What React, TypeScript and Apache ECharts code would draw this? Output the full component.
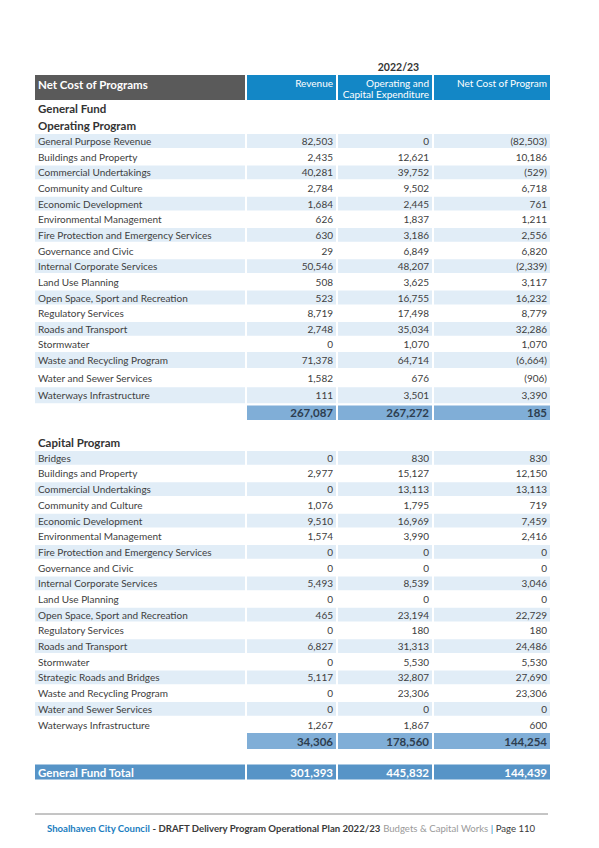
import React, { useEffect, useRef } from "react";
import * as echarts from "echarts";

const yearLabel = "2022/23";
const tableTitle = "Net Cost of Programs";
const columnHeaders = ["Revenue", "Operating and\nCapital Expenditure", "Net Cost of Program"];
const fundTitle = "General Fund";
const operatingTitle = "Operating Program";
const capitalTitle = "Capital Program";
const fundTotalLabel = "General Fund Total";

const operatingNames = [
  "General Purpose Revenue",
  "Buildings and Property",
  "Commercial Undertakings",
  "Community and Culture",
  "Economic Development",
  "Environmental Management",
  "Fire Protection and Emergency Services",
  "Governance and Civic",
  "Internal Corporate Services",
  "Land Use Planning",
  "Open Space, Sport and Recreation",
  "Regulatory Services",
  "Roads and Transport",
  "Stormwater",
  "Waste and Recycling Program",
  "Water and Sewer Services",
  "Waterways Infrastructure",
];
const operatingRevenue = [82503, 2435, 40281, 2784, 1684, 626, 630, 29, 50546, 508, 523, 8719, 2748, 0, 71378, 1582, 111];
const operatingExpenditure = [0, 12621, 39752, 9502, 2445, 1837, 3186, 6849, 48207, 3625, 16755, 17498, 35034, 1070, 64714, 676, 3501];
const operatingNet = [-82503, 10186, -529, 6718, 761, 1211, 2556, 6820, -2339, 3117, 16232, 8779, 32286, 1070, -6664, -906, 3390];
const operatingTotals = [267087, 267272, 185];

const capitalNames = [
  "Bridges",
  "Buildings and Property",
  "Commercial Undertakings",
  "Community and Culture",
  "Economic Development",
  "Environmental Management",
  "Fire Protection and Emergency Services",
  "Governance and Civic",
  "Internal Corporate Services",
  "Land Use Planning",
  "Open Space, Sport and Recreation",
  "Regulatory Services",
  "Roads and Transport",
  "Stormwater",
  "Strategic Roads and Bridges",
  "Waste and Recycling Program",
  "Water and Sewer Services",
  "Waterways Infrastructure",
];
const capitalRevenue = [0, 2977, 0, 1076, 9510, 1574, 0, 0, 5493, 0, 465, 0, 6827, 0, 5117, 0, 0, 1267];
const capitalExpenditure = [830, 15127, 13113, 1795, 16969, 3990, 0, 0, 8539, 0, 23194, 180, 31313, 5530, 32807, 23306, 0, 1867];
const capitalNet = [830, 12150, 13113, 719, 7459, 2416, 0, 0, 3046, 0, 22729, 180, 24486, 5530, 27690, 23306, 0, 600];
const capitalTotals = [34306, 178560, 144254];

const fundTotals = [301393, 445832, 144439];

const footerParts = [
  "Shoalhaven City Council",
  " - DRAFT Delivery Program Operational Plan 2022/23",
  " Budgets & Capital Works",
  " | ",
  "Page 110",
];

// ---- styling / layout ----
const FONT = "Lato";
const C_GREY = "#5a5a5a";
const C_BLUE = "#1387c6";
const C_STRIPE = "#e1edf7";
const C_SUB = "#80aed7";
const C_TOTAL = "#5794c7";
const C_TEXT = "#404040";
const C_SUBTEXT = "#2d3d4f";

const COLS = [
  { x: 35, w: 210 },
  { x: 247, w: 89 },
  { x: 338, w: 94 },
  { x: 434, w: 116 },
];

const fmt = (v: number) => {
  const s = Math.abs(v).toLocaleString("en-US");
  return v < 0 ? `(${s})` : s;
};

function text(str: string, x: number, y: number, opts: any = {}) {
  return {
    type: "text",
    silent: true,
    style: {
      text: str,
      x,
      y,
      fill: opts.fill || C_TEXT,
      fontFamily: FONT,
      fontSize: opts.fontSize || 10,
      fontWeight: opts.fontWeight || "normal",
      align: opts.align || "left",
      verticalAlign: opts.verticalAlign || "middle",
      lineHeight: opts.lineHeight,
    },
  };
}

function rect(x: number, y: number, w: number, h: number, fill: string) {
  return { type: "rect", silent: true, shape: { x, y, width: w, height: h }, style: { fill } };
}

function buildElements() {
  const els: any[] = [];

  // header
  els.push(text(yearLabel, (COLS[1].x + COLS[3].x + COLS[3].w) / 2, 67, { fontWeight: "bold", fill: "#333", fontSize: 10.5, align: "center" }));
  els.push(rect(COLS[0].x, 75, COLS[0].w, 25, C_GREY));
  for (let c = 1; c < 4; c++) els.push(rect(COLS[c].x, 75, COLS[c].w, 25, C_BLUE));
  els.push(text(tableTitle, 38, 84, { fill: "#fff", fontWeight: "bold", fontSize: 11.5 }));
  columnHeaders.forEach((h, i) => {
    const col = COLS[i + 1];
    els.push(
      text(h, col.x + col.w - 3, 77, { fill: "#fff", fontSize: 10, align: "right", verticalAlign: "top", lineHeight: 11 })
    );
  });

  els.push(text(fundTitle, 38, 108.5, { fontWeight: "bold", fontSize: 11.5, fill: "#333" }));
  els.push(text(operatingTitle, 38, 125.5, { fontWeight: "bold", fontSize: 11.5, fill: "#333" }));

  const drawRows = (
    names: string[],
    rev: number[],
    exp: number[],
    net: number[],
    centerOf: (i: number) => number,
    heightOf: (i: number) => number
  ) => {
    names.forEach((name, i) => {
      const cy = centerOf(i);
      const h = heightOf(i);
      if (i % 2 === 0) {
        for (let c = 0; c < 4; c++) els.push(rect(COLS[c].x, cy - h / 2, COLS[c].w, h, C_STRIPE));
      }
      els.push(text(name, 38, cy));
      [rev[i], exp[i], net[i]].forEach((v, k) => {
        const col = COLS[k + 1];
        els.push(text(fmt(v), col.x + col.w - 3, cy, { align: "right" }));
      });
    });
  };

  const subtotal = (vals: number[], cy: number, h: number) => {
    vals.forEach((v, k) => {
      const col = COLS[k + 1];
      els.push(rect(col.x, cy - h / 2, col.w, h, C_SUB));
      els.push(text(fmt(v), col.x + col.w - 3, cy, { align: "right", fontWeight: "bold", fontSize: 11.5, fill: C_SUBTEXT }));
    });
  };

  // operating program
  const opCenter = (i: number) => (i <= 14 ? 141 + i * 15.65 : 360.1 + (i - 14) * 17.6);
  const opHeight = (i: number) => (i >= 14 ? 16 : 13.8);
  drawRows(operatingNames, operatingRevenue, operatingExpenditure, operatingNet, opCenter, opHeight);
  subtotal(operatingTotals, opCenter(operatingNames.length - 1) + 17.5, 14.5);

  // capital program
  els.push(text(capitalTitle, 38, 442, { fontWeight: "bold", fontSize: 11.5, fill: "#333" }));
  const capCenter = (i: number) => 457.8 + i * 15.69;
  drawRows(capitalNames, capitalRevenue, capitalExpenditure, capitalNet, capCenter, () => 13.8);
  subtotal(capitalTotals, 741, 16);

  // general fund total
  const gy = 772;
  for (let c = 0; c < 4; c++) els.push(rect(COLS[c].x, gy - 7.5, COLS[c].w, 15, C_TOTAL));
  els.push(text(fundTotalLabel, 38, gy, { fill: "#fff", fontWeight: "bold", fontSize: 11.5 }));
  fundTotals.forEach((v, k) => {
    const col = COLS[k + 1];
    els.push(text(fmt(v), col.x + col.w - 3, gy, { fill: "#fff", fontWeight: "bold", fontSize: 11.5, align: "right" }));
  });

  // footer
  els.push({ type: "line", silent: true, shape: { x1: 35, y1: 814, x2: 548, y2: 814 }, style: { stroke: "#8a8a8a", lineWidth: 1 } });
  const keys = ["a", "b", "c", "d", "e"];
  const fs = 9.6;
  els.push({
    type: "text",
    silent: true,
    style: {
      text: footerParts.map((p, i) => `{${keys[i]}|${p}}`).join(""),
      x: 291,
      y: 828,
      align: "center",
      verticalAlign: "middle",
      rich: {
        a: { fontFamily: FONT, fontSize: fs, fontWeight: "bold", fill: "#1a7dc0" },
        b: { fontFamily: FONT, fontSize: fs, fontWeight: "bold", fill: "#3a3a3a" },
        c: { fontFamily: FONT, fontSize: fs, fontWeight: "normal", fill: "#9a9a9a" },
        d: { fontFamily: FONT, fontSize: fs, fontWeight: "normal", fill: "#1a7dc0" },
        e: { fontFamily: FONT, fontSize: fs, fontWeight: "normal", fill: "#3a3a3a" },
      },
    },
  });

  return els;
}

export default function App() {
  const ref = useRef<HTMLDivElement>(null);
  useEffect(() => {
    const chart = echarts.init(ref.current!, null, { renderer: "svg" });
    chart.setOption({ animation: false, graphic: { elements: buildElements() } });
    return () => chart.dispose();
  }, []);
  return (
    <div
      ref={ref}
      style={{ position: "fixed", left: 0, top: 0, width: 599, height: 848, background: "#ffffff" }}
    />
  );
}
